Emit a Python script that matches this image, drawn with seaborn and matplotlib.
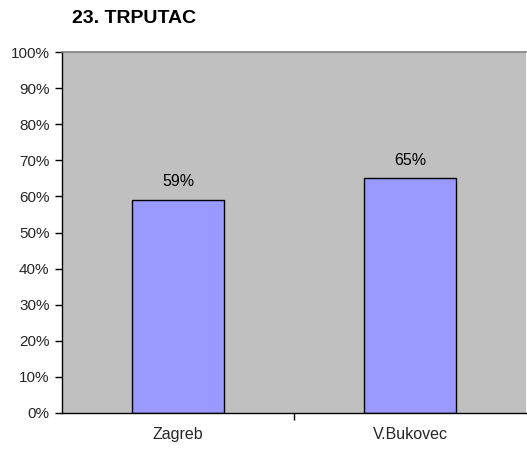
import matplotlib
matplotlib.use("Agg")
import matplotlib.pyplot as plt
import seaborn as sns
import pandas as pd

# Survey results per location
locations = ["Zagreb", "V.Bukovec"]
shares = [59, 65]
y_ticks = [0, 10, 20, 30, 40, 50, 60, 70, 80, 90, 100]
title = "23. TRPUTAC"

sns.set_theme(style="white")
plt.rcParams["font.family"] = ["Liberation Sans", "DejaVu Sans"]

df = pd.DataFrame({"location": locations, "share": shares})

fig = plt.figure(figsize=(5.27, 4.51), dpi=100)
ax = fig.add_axes([62 / 527, 38 / 451, 464 / 527, 361 / 451])
ax.set_facecolor("#C0C0C0")

sns.barplot(data=df, x="location", y="share", color="#9999FF", width=0.4,
            edgecolor="black", linewidth=1.0, saturation=1, ax=ax)

for i, v in enumerate(shares):
    ax.text(i, v + 3.0, f"{v}%", ha="center", va="bottom", fontsize=11.5, color="black")

ax.set_ylim(0, 100)
ax.set_xlim(-0.5, 1.5)
ax.set_yticks(y_ticks)
ax.set_yticklabels([f"{t}%" for t in y_ticks], fontsize=11)
ax.set_xticks([0, 1])
ax.set_xticklabels(locations, fontsize=11.5)
ax.tick_params(axis="x", length=0, pad=10)
ax.tick_params(axis="y", left=True, length=5, width=1, color="black", pad=4)
# boundary tick between the two categories
ax.set_xticks([0.5], minor=True)
ax.tick_params(axis="x", which="minor", bottom=True, length=5, width=1, color="black")
ax.set_xlabel("")
ax.set_ylabel("")

for side in ["left", "bottom"]:
    ax.spines[side].set_color("black")
    ax.spines[side].set_linewidth(1.0)
ax.spines["top"].set_color("#808080")
ax.spines["top"].set_linewidth(1.2)
ax.spines["right"].set_visible(False)

fig.text(134 / 527, 1 - 18.5 / 451, title, ha="center", va="center",
         fontsize=14, fontweight="bold", color="black")

fig.savefig("out.png", dpi=100, facecolor="white")
